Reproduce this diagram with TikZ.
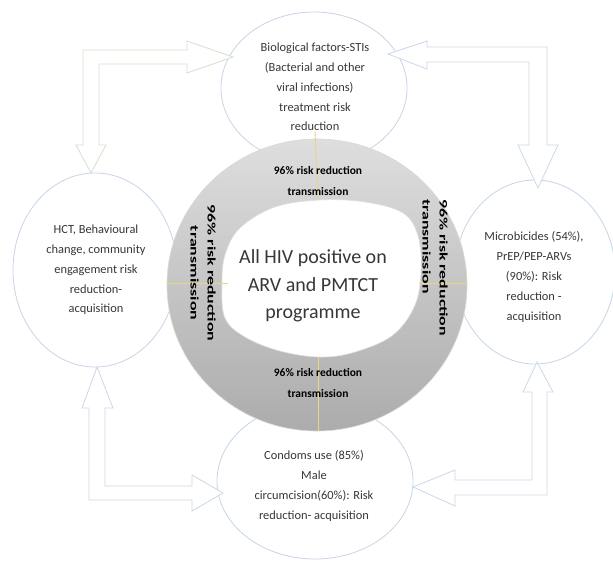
\documentclass[tikz,border=0pt]{standalone}
\usepackage{fontspec}
\setmainfont{Carlito}
\usetikzlibrary{shapes.geometric}
\definecolor{arrowblue}{RGB}{204,216,232}
\definecolor{arrowgreen}{RGB}{212,224,206}
\definecolor{ellblue}{RGB}{200,212,230}
\definecolor{txt}{RGB}{55,55,55}
\definecolor{conn}{RGB}{232,214,130}
\definecolor{ringtop}{RGB}{222,222,222}
\definecolor{ringbot}{RGB}{172,172,172}
\begin{document}
\begin{tikzpicture}[x=1pt,y=-1pt,
  oval/.style={ellipse, draw=ellblue, line width=0.8pt, fill=white, inner sep=0pt},
  ovaltext/.style={align=center, font=\fontsize{12.4}{19.8}\selectfont, text=txt, inner sep=0pt},
  ringtext/.style={align=center, font=\bfseries\fontsize{11.5}{21}\selectfont, inner sep=0pt},
  sidetext/.style={align=center, font=\bfseries\fontsize{11.5}{17}\selectfont, inner sep=0pt, rotate=-90, xscale=1.55},
  blockarrow/.style={draw=arrowblue, line width=0.8pt, fill=white, line join=miter},
  link/.style={draw=conn, line width=0.9pt}]
\useasboundingbox[fill=white] (0,0) rectangle (613,560);

% outer ellipses
\node[oval, minimum width=186pt, minimum height=152pt] (top) at (314,88) {};
\node[oval, minimum width=164pt, minimum height=194pt] (left) at (95,270) {};
\node[oval, minimum width=160pt, minimum height=184pt] (right) at (535,272) {};
\node[oval, minimum width=196pt, minimum height=156pt] (bottom) at (315,481) {};

% block arrows
\draw[blockarrow, draw=arrowgreen] (76,145) -- (83,145) -- (83,50) -- (187,50) -- (187,41) -- (233,57)
  -- (187,73) -- (187,64) -- (99,64) -- (99,145) -- (106,145) -- (91,173) -- cycle;
\draw[blockarrow] (388,54) -- (427,41) -- (427,47) -- (547,47) -- (547,145) -- (558,145) -- (538,188)
  -- (518,145) -- (529,145) -- (529,62) -- (427,62) -- (427,69) -- cycle;
\draw[blockarrow] (97,367) -- (113,408) -- (105,408) -- (105,486) -- (192,486) -- (192,475) -- (223,493)
  -- (192,511) -- (192,500) -- (89,500) -- (89,408) -- (82,408) -- cycle;
\draw[blockarrow] (537,362) -- (553,392) -- (547,392) -- (547,495) -- (455,495) -- (455,506) -- (413,487)
  -- (455,470) -- (455,480) -- (532,480) -- (532,392) -- (523,392) -- cycle;

% ring
\shade[top color=ringtop, bottom color=ringbot, draw=none] (317,285) ellipse [x radius=150pt, y radius=146pt];
\draw[draw=arrowgreen!70!gray!60, line width=0.6pt] (317,285) ellipse [x radius=150pt, y radius=146pt];
\fill[white] plot[smooth cycle, tension=0.6] coordinates {(320,200) (365,202) (403,213) (418,236) (421,270)
  (415,305) (393,335) (355,352) (320,357) (280,351) (245,337) (225,318) (222,285) (225,255) (240,228) (275,207)};
\draw[gray!25, line width=0.6pt] plot[smooth cycle, tension=0.6] coordinates {(320,200) (365,202) (403,213) (418,236) (421,270)
  (415,305) (393,335) (355,352) (320,357) (280,351) (245,337) (225,318) (222,285) (225,255) (240,228) (275,207)};

% oval texts
\node[ovaltext] (toplabel) at (315,87) {Biological factors-STIs\\(Bacterial and other\\viral infections)\\treatment risk\\reduction};
\node[ovaltext] (leftlabel) at (96,270) {HCT, Behavioural\\change, community\\engagement risk\\reduction-\\acquisition};
\node[ovaltext] (rightlabel) at (534,277) {Microbicides (54\%),\\PrEP/PEP-ARVs\\(90\%): Risk\\reduction -\\acquisition};
\node[ovaltext] (bottomlabel) at (314,486) {Condoms use (85\%)\\Male\\circumcision(60\%): Risk\\reduction- acquisition};

% connectors
\coordinate (innerT) at (318,200);
\coordinate (innerB) at (318,357);
\coordinate (innerL) at (228,283);
\coordinate (innerR) at (419,283);
\coordinate (ringL) at (167,283);
\coordinate (ringR) at (467,283);
\coordinate (ringB) at (318,431);
\draw[link] (toplabel.south) -- (innerT);
\draw[link] (innerB) -- (ringB);
\draw[link] (ringL) -- (innerL);
\draw[link] (innerR) -- (ringR);

% ring texts
\node[ringtext] (rtop) at (318,181) {96\% risk reduction\\transmission};
\node[ringtext] (rbottom) at (318,383) {96\% risk reduction\\transmission};
\node[sidetext] (rleft) at (203,273) {96\% risk reduction\\transmission};
\node[sidetext, align=left, anchor=west] (rright) at (435,199) {96\% risk reduction\\transmission};

% centre
\node[align=center, font=\fontsize{20}{27.5}\selectfont, text=txt, inner sep=0pt] (centre) at (313,286)
  {All HIV positive on\\ARV and PMTCT\\programme};
\end{tikzpicture}
\end{document}
